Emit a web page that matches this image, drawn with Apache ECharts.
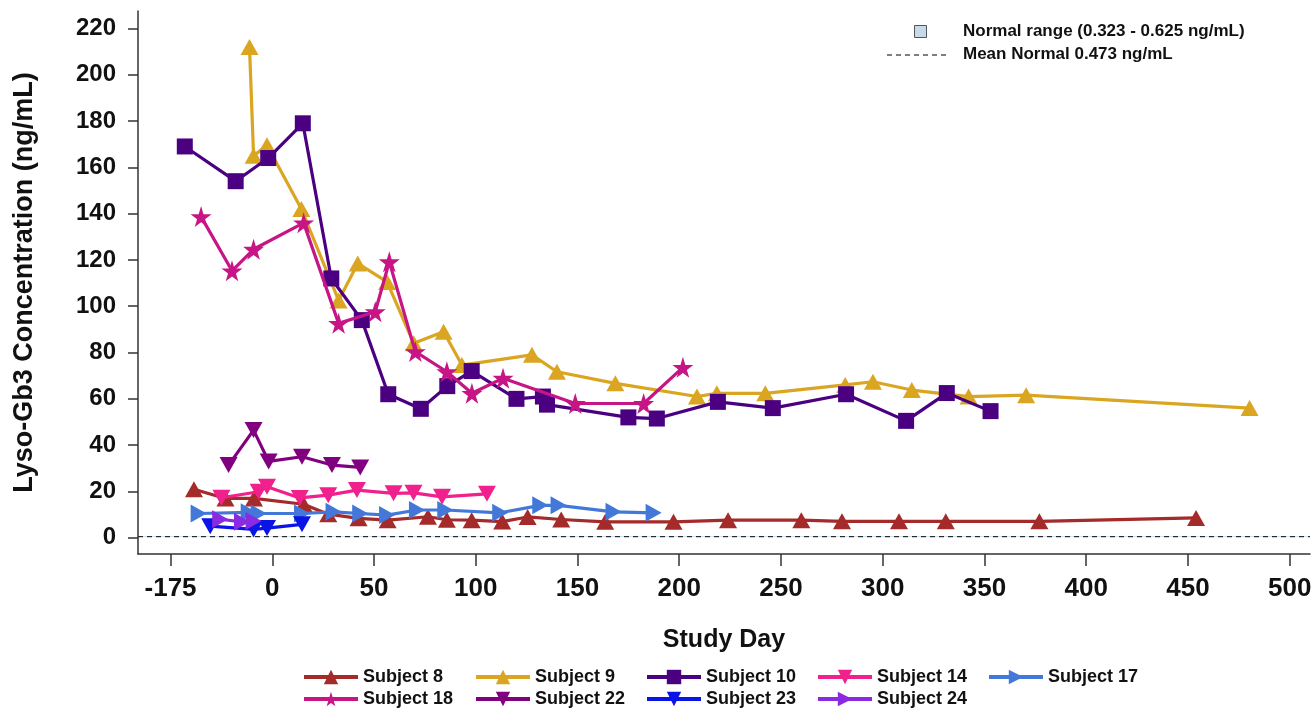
<!DOCTYPE html>
<html>
<head>
<meta charset="utf-8">
<script src="https://cdn.jsdelivr.net/npm/echarts@6/dist/echarts.min.js"></script>
<style>html,body{margin:0;padding:0;background:#fff}#c{width:1315px;height:709px}</style>
</head>
<body>
<div id="c"></div>
<script>
// x values are read in the plotted (broken-axis) day scale
const subjectNames = ['Subject 8','Subject 9','Subject 10','Subject 14','Subject 17','Subject 18','Subject 22','Subject 23','Subject 24'];
const s8  = [[-38.5,21],[-23,17],[-9,17],[15.4,14.5],[27.5,10.2],[42.4,8.4],[56.7,7.6],[76.5,9.1],[85.8,7.8],[98,7.6],[113,7],[125.5,9],[142,7.9],[163.6,6.9],[197.2,6.9],[224,7.6],[260,7.6],[280,7.1],[308,7.1],[331,7.1],[377,7.1],[454,8.6]];
const s9  = [[-11.2,212],[-9.2,165],[-2.6,169.5],[14.3,142],[32.6,102.5],[42,118.5],[56.4,110.5],[69.5,84],[84.2,89],[93.2,74.6],[127.6,79],[139.9,71.7],[168.6,66.7],[208.7,61],[218.5,62.4],[242.3,62.4],[281.6,66],[295.2,67.4],[314.3,63.8],[342.2,61],[370.5,61.6],[480.3,56]];
const s10 = [[-43,169],[-18,154],[-2,164],[15,179],[29,112],[44,94],[57,62],[73,55.7],[86,65.5],[98,72],[120,60],[133,61],[135,57.5],[175,52],[189,51.5],[219,58.7],[246,56],[282,62],[311.5,50.5],[331.5,62.5],[353,54.7]];
const s14 = [[-25,17.3],[-6.7,19.9],[-2.6,22],[13.5,17.2],[27.5,18.4],[41.6,20.6],[59.6,19.2],[69.4,19.4],[83.4,17.7],[105.5,19]];
const s17 = [[-36.2,10.5],[-11.6,11],[-6.7,10.5],[14.6,10.5],[30.1,11.2],[43.2,10.5],[56.4,9.8],[71.1,12],[85,12],[112,10.8],[131.7,14],[140.7,14],[167.7,11.2],[187.4,10.8]];
const s18 = [[-35,138.7],[-19.8,115.3],[-9.2,124.6],[15.4,136],[32.6,92.6],[50.6,97.6],[57.5,119.2],[70.3,80.4],[85.8,71.7],[98.1,62.4],[113.4,68.9],[148.9,58],[182.5,58],[201.8,73.6]];
const s22 = [[-21.5,31.4],[-9.2,46.5],[-1.8,33],[14.6,35],[29.3,31.4],[43.2,30.4]];
const s23 = [[-30.5,5],[-9.2,3.6],[-2.6,4.2],[14.6,5.8]];
const s24 = [[-25.6,8],[-14.9,6.9],[-9.2,7.2]];
const seriesData = [s8,s9,s10,s14,s17,s18,s22,s23,s24];

const xTicks = [-50,0,50,100,150,200,250,300,350,400,450,500];
const xTickLabels = {'-50':'-175'};
const yTicks = [0,20,40,60,80,100,120,140,160,180,200,220];
const normalLow = 0.323, normalHigh = 0.625, normalMean = 0.473;
const normalName = 'Normal range (0.323 - 0.625 ng/mL)';
const meanName = 'Mean Normal 0.473 ng/mL';

const colors = ['#a52a2a','#daa520','#4b0082','#f0208c','#4478d8','#c71585','#800080','#0a14e6','#8a2be2'];
const TRI_UP = 'triangle';
const TRI_DOWN = 'path://M0,0L10,0L5,9Z';
const TRI_RIGHT = 'path://M0,0L9,5L0,10Z';
const STAR = 'path://M50,0L61,35L98,35L68,57L79,91L50,70L21,91L32,57L2,35L39,35Z';
const symbols = [TRI_UP,TRI_UP,'rect',TRI_DOWN,TRI_RIGHT,STAR,TRI_DOWN,TRI_DOWN,TRI_RIGHT];
const sizes = [[18,16],[18,16],[16,16],[18,16],[16,18],[21,21],[18,16],[18,16],[16,18]];

const FONT = '"Liberation Sans", Arial, sans-serif';

const series = subjectNames.map((n,i)=>({
  name:n, type:'line', data:seriesData[i], symbol:symbols[i], symbolSize:sizes[i],
  showAllSymbol:true, z:3+i,
  lineStyle:{width:3.2,color:colors[i]}, itemStyle:{color:colors[i]},
  emphasis:{disabled:true}, animation:false
}));
// normal range band + mean normal dashed line
series.push({
  name:'normalBand', type:'line', data:[], symbol:'none',
  markArea:{silent:true, itemStyle:{color:'#c5dce8'}, data:[[{yAxis:normalLow},{yAxis:normalHigh}]]},
  animation:false
});
series.push({
  name:'meanLine', type:'line', symbol:'none',
  data:[[-66,normalMean],[510,normalMean]],
  lineStyle:{color:'#000',width:1,type:[5,4]}, z:2, animation:false
});

// bottom legend: 5 columns x 2 rows
const colLeft = [302,474,645,816,987];
const legends = [];
for(let c=0;c<5;c++){
  const items=[subjectNames[c]];
  if(subjectNames[c+5]) items.push(subjectNames[c+5]);
  legends.push({
    orient:'vertical', left:colLeft[c], top:668, right:'auto', bottom:'auto', width:170, height:50,
    data:items,
    itemWidth:54, itemHeight:18, itemGap:4, selectedMode:false,
    lineStyle:{width:4},
    textStyle:{fontFamily:FONT,fontWeight:'bold',fontSize:18,color:'#111',lineHeight:16},
    padding:0
  });
}

const chart = echarts.init(document.getElementById('c'),null,{renderer:'canvas'});
chart.setOption({
  backgroundColor:'#fff',
  animation:false,
  grid:{left:138,right:5,top:11,bottom:155,containLabel:false},
  legend:legends,
  graphic:[
    {type:'rect', left:914, top:25, shape:{width:12,height:12}, style:{fill:'#c5dce8',stroke:'#555',lineWidth:1}},
    {type:'text', left:963, top:23, style:{text:normalName, font:'bold 17px "Liberation Sans", Arial, sans-serif', fill:'#111'}},
    {type:'line', shape:{x1:887,y1:55,x2:946,y2:55}, style:{stroke:'#000',lineWidth:1,lineDash:[5,4]}},
    {type:'text', left:963, top:46, style:{text:meanName, font:'bold 17px "Liberation Sans", Arial, sans-serif', fill:'#111'}}
  ],
  xAxis:{
    type:'value', min:-66, max:510,
    name:'Study Day', nameLocation:'middle', nameGap:74,
    nameTextStyle:{fontFamily:FONT,fontWeight:'bold',fontSize:25,color:'#111'},
    axisLine:{show:true,onZero:false,lineStyle:{color:'#333',width:1.5}},
    axisTick:{show:true,length:12,customValues:xTicks,lineStyle:{color:'#333',width:1.5}},
    axisLabel:{customValues:xTicks,margin:22,fontFamily:FONT,fontWeight:'bold',fontSize:26,color:'#111',
      formatter:v=> (xTickLabels[String(v)]!==undefined? xTickLabels[String(v)] : String(v))},
    splitLine:{show:false}
  },
  yAxis:{
    type:'value', min:-7, max:227.5,
    name:'Lyso-Gb3 Concentration (ng/mL)', nameLocation:'middle', nameGap:100, nameRotate:90,
    nameTextStyle:{fontFamily:FONT,fontWeight:'bold',fontSize:27,color:'#111'},
    axisLine:{show:true,onZero:false,lineStyle:{color:'#333',width:1.5}},
    axisTick:{show:true,length:10,customValues:yTicks,lineStyle:{color:'#333',width:1.5}},
    axisLabel:{customValues:yTicks,margin:22,fontFamily:FONT,fontWeight:'bold',fontSize:24,color:'#111'},
    splitLine:{show:false}
  },
  series:series
});
</script>
</body>
</html>
